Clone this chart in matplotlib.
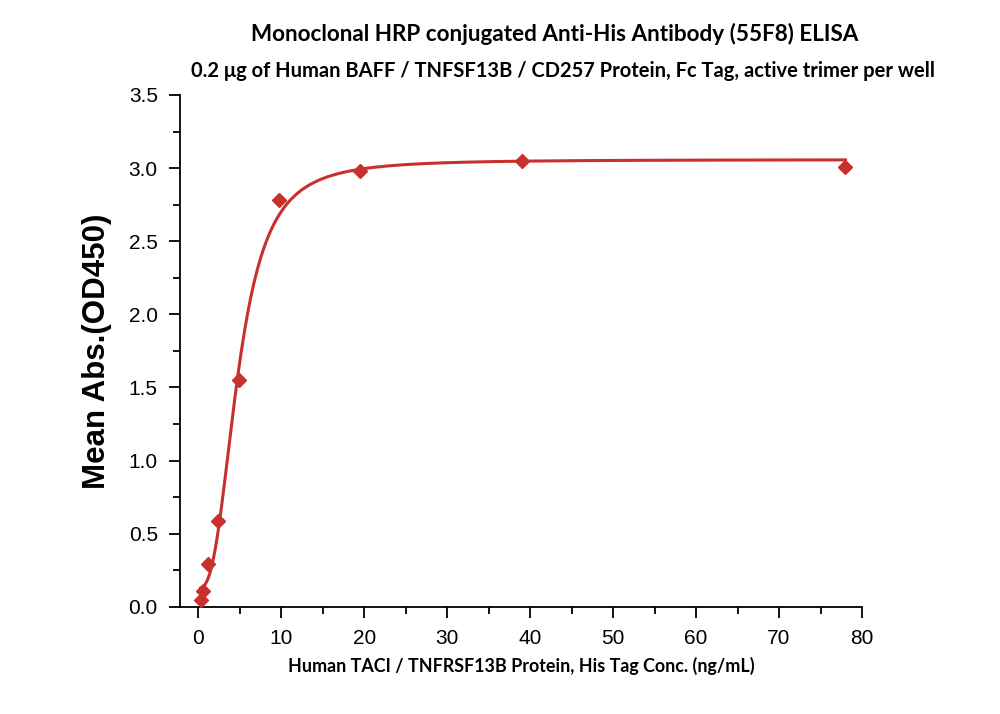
import numpy as np
import matplotlib
matplotlib.use("Agg")
import matplotlib.pyplot as plt
from matplotlib.ticker import MultipleLocator

# data
conc = np.array([0.3, 0.61, 1.22, 2.44, 4.88, 9.77, 19.5, 39.0, 78.0])
od450 = np.array([0.05, 0.11, 0.29, 0.59, 1.55, 2.78, 2.98, 3.05, 3.01])

title = "Monoclonal HRP conjugated Anti-His Antibody (55F8) ELISA"
subtitle = "0.2 \u03bcg of Human BAFF / TNFSF13B / CD257 Protein, Fc Tag, active trimer per well"
xlabel = "Human TACI / TNFRSF13B Protein, His Tag Conc. (ng/mL)"
ylabel = "Mean Abs.(OD450)"

red = "#C8302E"


# 4 parameter logistic, fitted with a small gauss-newton loop
def fourpl(x, p):
    a, b, c, d = p
    return d + (a - d) / (1.0 + (x / c) ** b)


def fit4pl(x, y, p0):
    p = np.array(p0, dtype=float)
    for _ in range(200):
        r = y - fourpl(x, p)
        J = np.zeros((len(x), len(p)))
        for k in range(len(p)):
            dp = np.zeros_like(p)
            dp[k] = 1e-6 * max(abs(p[k]), 1e-3)
            J[:, k] = (fourpl(x, p + dp) - fourpl(x, p)) / dp[k]
        step = np.linalg.lstsq(J.T @ J + 1e-3 * np.eye(len(p)), J.T @ r, rcond=None)[0]
        p = p + step
        if np.max(np.abs(step)) < 1e-9:
            break
    return p


params = fit4pl(conc, od450, [0.0, 2.0, 5.0, 3.05])
xs = np.linspace(conc.min(), conc.max(), 400)

fig = plt.figure(figsize=(10, 7.14), dpi=100)
ax = fig.add_axes([0.18, 0.15, 0.682, 0.717])

ax.plot(xs, fourpl(xs, params), color=red, lw=2.2, zorder=2)
ax.plot(conc, od450, "D", color=red, ms=7, zorder=3)

ax.set_xlim(-2.2, 80)
ax.set_ylim(0, 3.5)
ax.xaxis.set_major_locator(MultipleLocator(10))
ax.xaxis.set_minor_locator(MultipleLocator(5))
ax.yaxis.set_major_locator(MultipleLocator(0.5))
ax.yaxis.set_minor_locator(MultipleLocator(0.25))
ax.yaxis.set_major_formatter(matplotlib.ticker.FormatStrFormatter("%.1f"))

for s in ["top", "right"]:
    ax.spines[s].set_visible(False)
for s in ["left", "bottom"]:
    ax.spines[s].set_linewidth(1.3)
ax.tick_params(which="major", direction="out", length=8, width=1.3, labelsize=15, pad=8)
ax.tick_params(which="minor", direction="out", length=5, width=1.3)
for lab in ax.get_xticklabels() + ax.get_yticklabels():
    lab.set_family("Liberation Sans")

ax.set_xlabel(xlabel, fontsize=12.9, fontweight="bold", family="Lato", labelpad=6)
ax.set_ylabel(ylabel, fontsize=22.5, fontweight="bold", family="Liberation Sans", labelpad=12)

fig.text(0.555, 0.952, title, ha="center", va="center", fontsize=16.2, fontweight="bold", family="Lato")
fig.text(0.563, 0.900, subtitle, ha="center", va="center", fontsize=14.5, fontweight="bold", family="Lato")

fig.savefig("out.png", dpi=100)
